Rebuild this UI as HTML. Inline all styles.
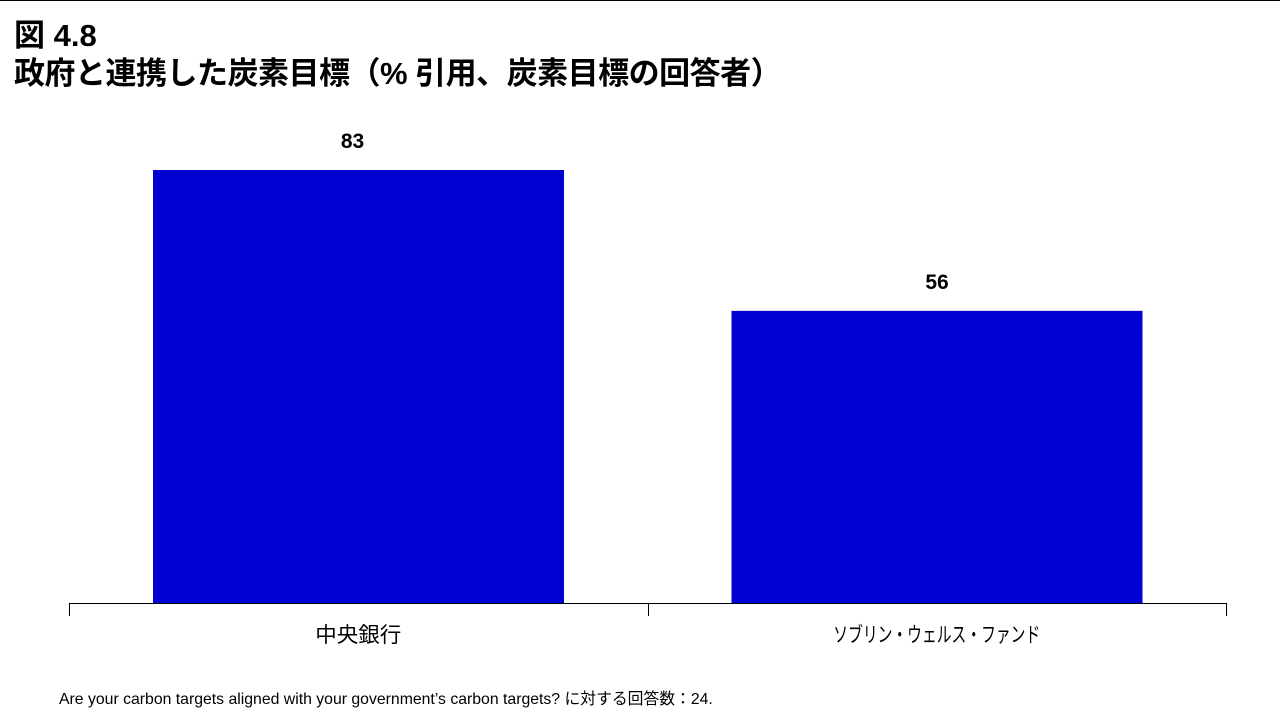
<!DOCTYPE html>
<html><head><meta charset="utf-8"><style>
body{margin:0;width:1280px;height:720px;background:#fff;overflow:hidden;position:relative;font-family:"Liberation Sans","Noto Sans CJK JP",sans-serif}
.t{position:absolute;left:14px;font-weight:bold;font-size:31px;color:#000;white-space:nowrap;line-height:1}
</style></head><body>
<div style="position:absolute;left:0;top:0;width:1280px;height:1px;background:#000"></div>
<div class="t" style="top:20px">図 4.8</div>
<div class="t" style="top:58px;letter-spacing:-0.5px">政府と連携した炭素目標（% 引用、炭素目標の回答者）</div>
<svg id="chart" width="1280" height="720" style="position:absolute;left:0;top:0"></svg>
<div style="position:absolute;left:59px;top:686px;font-size:15.8px;color:#000;white-space:nowrap">Are your carbon targets aligned with your government’s carbon targets? に対する回答数：24.</div>
<script>
const categories=["中央銀行","ソブリン・ウェルス・ファンド"];
const values=[83,56];
const labelWidths=[86,207];
const svg=document.getElementById('chart');
const NS='http://www.w3.org/2000/svg';
const x0=69,x1=1226,yBase=603,pxPerUnit=433/83;
const band=(x1-x0)/categories.length;
function y(v){return yBase-v*pxPerUnit;}
function mk(t,a){const e=document.createElementNS(NS,t);for(const k in a)e.setAttribute(k,a[k]);svg.appendChild(e);return e;}
categories.forEach((c,i)=>{
  const bx=x0+band*i+84,bw=411;
  const r=mk('rect',{x:bx,y:y(values[i]),width:bw,height:yBase-y(values[i]),fill:'#0000d2'});
  
  
  const v=mk('text',{x:bx+bw/2-(i===0?6:0),y:y(values[i])-22,'text-anchor':'middle','font-size':'21','font-weight':'bold','font-family':'Liberation Sans, sans-serif'});
  v.textContent=values[i];
  
  
  const l=mk('text',{x:x0+band*i+band/2,y:642,'text-anchor':'middle','font-size':'21','textLength':labelWidths[i],'lengthAdjust':'spacingAndGlyphs','font-family':'Liberation Sans, Noto Sans CJK JP, sans-serif'});
  l.textContent=c;
  
  
});
const ax=mk('line',{x1:x0,x2:x1,y1:yBase+0.5,y2:yBase+0.5,stroke:'#000','stroke-width':1});


for(let i=0;i<=categories.length;i++){
  const xx=Math.round(x0+band*i)+0.5;
  const t=mk('line',{x1:xx,x2:xx,y1:yBase,y2:616,stroke:'#000','stroke-width':1});
  
  
}
</script>
</body></html>
